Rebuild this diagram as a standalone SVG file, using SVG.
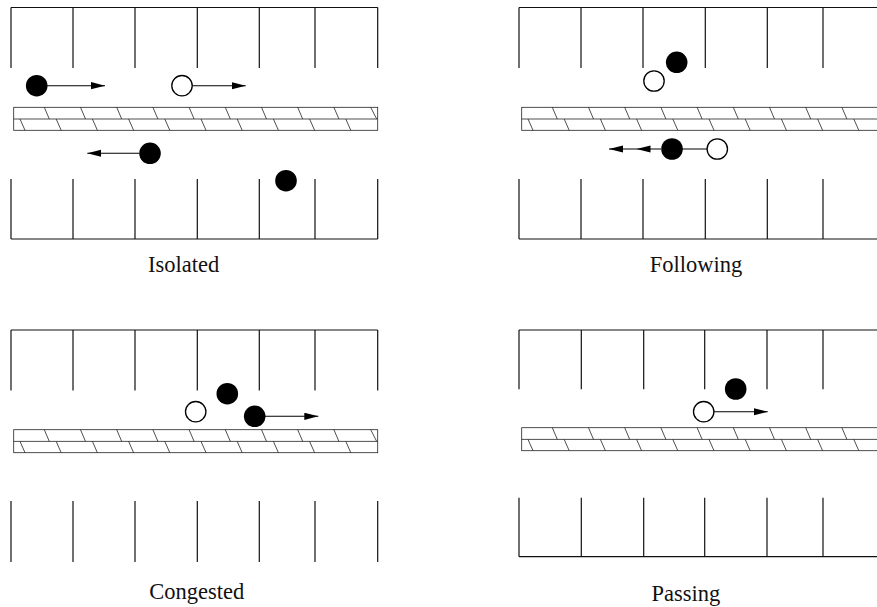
<svg xmlns="http://www.w3.org/2000/svg" xmlns:xlink="http://www.w3.org/1999/xlink" width="877" height="607" viewBox="0 0 877 607">
  <style>
    .wall { fill: none; stroke: #111; stroke-width: 1.2; }
    .strip { fill: none; stroke: #222; stroke-width: 0.8; }
    .car { fill: #000; }
    .parked { fill: #fff; stroke: #000; stroke-width: 1.3; }
    .move { fill: none; stroke: #000; stroke-width: 1.1; }
    .label { font-family: "Liberation Serif", "Times New Roman", serif; font-size: 22.5px; fill: #111; text-anchor: middle; }
  </style>
  <defs>
    <marker id="head" markerUnits="userSpaceOnUse" markerWidth="15" markerHeight="8" refX="14" refY="3.6" orient="auto">
      <path d="M0,0 L14,3.6 L0,7.2 z" fill="#000"/>
    </marker>
    <!-- hatched median strip, drawn at y = 0 -->
    <g id="median">
      <rect class="strip" x="13.7" y="0" width="364" height="23"/>
      <line class="strip" x1="13.7" y1="11.7" x2="377.7" y2="11.7"/>
      <path class="strip" d="M44.3,0 l5,11.7 M80.5,0 l5,11.7 M116.7,0 l5,11.7 M152.9,0 l5,11.7 M189.1,0 l5,11.7 M225.3,0 l5,11.7 M261.5,0 l5,11.7 M297.7,0 l5,11.7 M333.9,0 l5,11.7 M370.7,0 l6,11.7"/>
      <path class="strip" d="M20,11.7 l5,11.3 M56.2,11.7 l5,11.3 M92.4,11.7 l5,11.3 M128.6,11.7 l5,11.3 M164.8,11.7 l5,11.3 M201,11.7 l5,11.3 M237.2,11.7 l5,11.3 M273.4,11.7 l5,11.3 M309.6,11.7 l5,11.3 M345.8,11.7 l5,11.3"/>
    </g>
    <!-- row of parking bays opening downward -->
    <path id="bays-top" class="wall" d="M11,0 H377.7 M11,0 V60.5 M73,0 V60.5 M135,0 V60.5 M197.3,0 V60.5 M259.3,0 V60.5 M315,0 V60.5 M377.7,0 V60.5"/>
    <!-- row of parking bays opening upward -->
    <path id="bays-bottom" class="wall" d="M11,60 H377.7 M11,0 V60 M73,0 V60 M135,0 V60 M197.3,0 V60 M259.3,0 V60 M315,0 V60 M377.7,0 V60"/>
    <path id="bays-open" class="wall" d="M11,0 V61 M73,0 V61 M135,0 V61 M197.3,0 V61 M259.3,0 V61 M315,0 V61 M377.7,0 V61"/>
  </defs>

  <!-- Isolated -->
  <g id="panel-isolated">
    <use xlink:href="#bays-top" y="7.5"/>
    <use xlink:href="#median" y="107.3"/>
    <use xlink:href="#bays-bottom" y="179"/>
  </g>
  <!-- Following -->
  <g id="panel-following">
    <use xlink:href="#bays-top" x="508" y="7.5"/>
    <use xlink:href="#median" x="508" y="107.3"/>
    <use xlink:href="#bays-bottom" x="508" y="179"/>
  </g>
  <!-- Congested -->
  <g id="panel-congested">
    <use xlink:href="#bays-top" y="330"/>
    <use xlink:href="#median" y="429.7"/>
    <use xlink:href="#bays-open" y="501"/>
  </g>
  <!-- Passing -->
  <g id="panel-passing">
    <path class="wall" d="M519,330 H877 M519,330 V389.3 M581.3,330 V389.3 M643.7,330 V389.3 M704.7,330 V389.3 M767,330 V389.3 M823,330 V389.3"/>
    <use xlink:href="#median" x="508" y="427.7"/>
    <path class="wall" d="M519,556.7 H877 M519,497.7 V556.7 M581.3,497.7 V556.7 M643.7,497.7 V556.7 M704.7,497.7 V556.7 M767,497.7 V556.7 M823,497.7 V556.7"/>
  </g>

  <!-- motion arrows -->
  <g id="connectors">
    <line class="move" x1="47" y1="85.7" x2="105" y2="85.7" marker-end="url(#head)"/>
    <line class="move" x1="192" y1="85.7" x2="245.7" y2="85.7" marker-end="url(#head)"/>
    <line class="move" x1="139" y1="153.3" x2="87.3" y2="153.3" marker-end="url(#head)"/>
    <line class="move" x1="672" y1="149" x2="717.3" y2="149"/>
    <polyline class="move" points="661,149 636.5,149 609,149" marker-mid="url(#head)" marker-end="url(#head)"/>
    <line class="move" x1="265" y1="416.3" x2="318.3" y2="416.3" marker-end="url(#head)"/>
    <line class="move" x1="714" y1="411.7" x2="767.7" y2="411.7" marker-end="url(#head)"/>
  </g>

  <!-- vehicles -->
  <g id="car-1"><circle class="car" cx="36.7" cy="85.7" r="10.8"/></g>
  <g id="car-2"><circle class="parked" cx="182" cy="85.7" r="10.2"/></g>
  <g id="car-3"><circle class="car" cx="150" cy="153.3" r="10.8"/></g>
  <g id="car-4"><circle class="car" cx="286" cy="180.7" r="10.8"/></g>

  <g id="car-5"><circle class="car" cx="676.7" cy="62.3" r="10.8"/></g>
  <g id="car-6"><circle class="parked" cx="654" cy="81" r="10.2"/></g>
  <g id="car-7"><circle class="car" cx="672" cy="149" r="10.8"/></g>
  <g id="car-8"><circle class="parked" cx="717.3" cy="149" r="10.2"/></g>

  <g id="car-9"><circle class="parked" cx="195.7" cy="411.7" r="10.2"/></g>
  <g id="car-10"><circle class="car" cx="227.3" cy="393.7" r="10.8"/></g>
  <g id="car-11"><circle class="car" cx="254.7" cy="416.3" r="10.8"/></g>

  <g id="car-12"><circle class="car" cx="735.7" cy="389" r="10.8"/></g>
  <g id="car-13"><circle class="parked" cx="703.7" cy="411.7" r="10.2"/></g>

  <!-- captions -->
  <g id="captions">
    <text class="label" x="183.7" y="271.5">Isolated</text>
    <text class="label" x="696" y="271.5">Following</text>
    <text class="label" x="196.7" y="599">Congested</text>
    <text class="label" x="686" y="601">Passing</text>
  </g>
</svg>
